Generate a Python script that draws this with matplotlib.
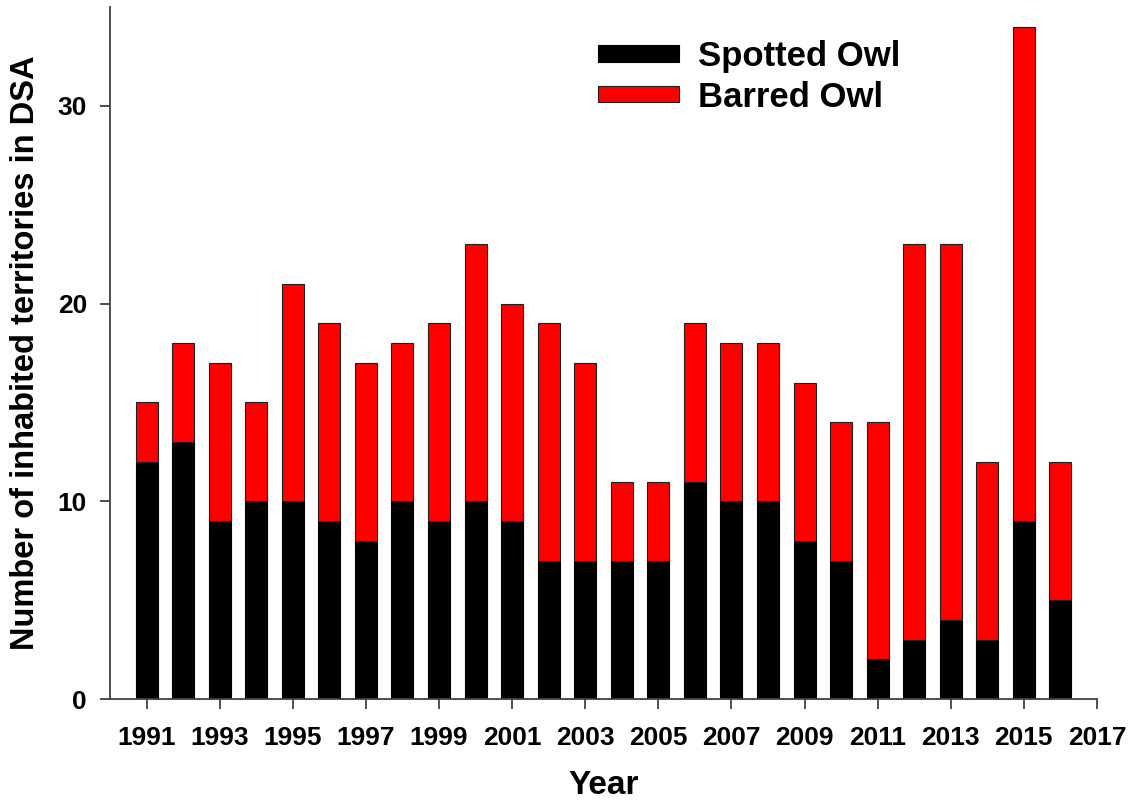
import numpy as np
import matplotlib.pyplot as plt
from matplotlib.patches import Patch

# === data ===
years = np.arange(1991, 2017)
spotted = [12, 13, 9, 10, 10, 9, 8, 10, 9, 10, 9, 7, 7,
           7, 7, 11, 10, 10, 8, 7, 2, 3, 4, 3, 9, 5]
barred = [3, 5, 8, 5, 11, 10, 9, 8, 10, 13, 11, 12, 10,
          4, 4, 8, 8, 8, 8, 7, 12, 20, 19, 9, 25, 7]
xticks = np.arange(1991, 2018, 2)
yticks = [0, 10, 20, 30]

plt.rcParams['font.family'] = ['Liberation Sans', 'DejaVu Sans']
plt.rcParams['font.weight'] = 'bold'

fig = plt.figure(figsize=(11.35, 8.07), dpi=100)
ax = fig.add_axes([0.0969, 0.1338, 0.8696, 0.8575])

ax.bar(years, spotted, width=0.6, color='black', edgecolor='black', linewidth=0.8)
ax.bar(years, barred, width=0.6, bottom=spotted, color='#ff0000',
       edgecolor='#202020', linewidth=0.8)

ax.set_xlim(1990, 2017)
ax.set_ylim(0, 35)
ax.set_xticks(xticks)
ax.set_yticks(yticks)

for s in ['top', 'right']:
    ax.spines[s].set_visible(False)
for s in ['left', 'bottom']:
    ax.spines[s].set_color('#404040')
    ax.spines[s].set_linewidth(1.3)

ax.tick_params(axis='x', direction='out', length=7.5, width=1.3, color='#404040',
               labelsize=19, pad=12)
ax.tick_params(axis='y', direction='out', length=7.5, width=1.3, color='#404040',
               labelsize=19, pad=9)
for lab in ax.get_xticklabels() + ax.get_yticklabels():
    lab.set_fontweight('bold')

ax.set_xlabel('Year', fontsize=24, fontweight='bold', labelpad=14)
ax.set_ylabel('Number of inhabited territories in DSA', fontsize=23.5,
              fontweight='bold', labelpad=12)

handles = [Patch(facecolor='black', edgecolor='black', linewidth=0.8),
           Patch(facecolor='#ff0000', edgecolor='#202020', linewidth=0.8)]
fig.legend(handles, ['Spotted Owl', 'Barred Owl'], loc='upper left',
           bbox_to_anchor=(598 / 1135, 1 - 40 / 807), frameon=False,
           handlelength=2.33, handleheight=0.35,
           handletextpad=0.55, labelspacing=0.22, borderpad=0,
           borderaxespad=0, prop={'weight': 'bold', 'size': 25})

fig.savefig('out.png', dpi=100)
